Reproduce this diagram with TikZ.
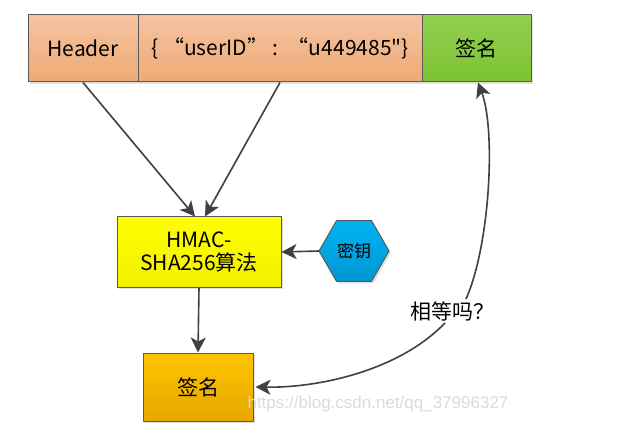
\documentclass[tikz,border=0pt]{standalone}
\usepackage{fontspec}
\setmainfont{Noto Sans CJK SC}[Ligatures=TeXOff]
\newfontfamily\wmfont{Liberation Sans}
\usetikzlibrary{arrows.meta,shapes.geometric,shadows,calc}
\definecolor{edgec}{HTML}{5A5A5A}
\definecolor{linec}{HTML}{404040}
\definecolor{orgtop}{HTML}{F5C3A0}
\definecolor{orgbot}{HTML}{EEAA76}
\definecolor{grntop}{HTML}{92D050}
\definecolor{grnbot}{HTML}{7CC232}
\definecolor{ylwtop}{HTML}{FFFF00}
\definecolor{ylwbot}{HTML}{F2F000}
\definecolor{blutop}{HTML}{00B4F2}
\definecolor{blubot}{HTML}{0096D2}
\definecolor{gldtop}{HTML}{FFC400}
\definecolor{gldbot}{HTML}{E6A800}
\tikzset{
  box/.style={draw=edgec, line width=1pt, inner sep=0pt, anchor=center,
    drop shadow={shadow xshift=2pt, shadow yshift=-2pt, fill=black!20, opacity=0.6},
    font=\fontsize{21}{23}\selectfont, align=center},
  orangebox/.style={box, top color=orgtop, bottom color=orgbot, minimum height=67pt},
  conn/.style={draw=linec, line width=1.6pt, -{Stealth[length=15pt,width=15pt,inset=4pt]}}
}
\begin{document}
\begin{tikzpicture}[x=1pt,y=-1pt]
\useasboundingbox (0,0) rectangle (619,441);
\fill[white] (0,0) rectangle (619,441);
% top row
\node[orangebox, minimum width=110pt] (hdr) at (83,48.5) {Header};
\node[orangebox, minimum width=284pt] (json) at (280,48.5) {\{ “userID” : \ “u449485"\}};
\node[box, top color=grntop, bottom color=grnbot, minimum width=109pt, minimum height=67pt] (topsig) at (476.5,48.5) {签名};
% HMAC
\node[box, top color=ylwtop, bottom color=ylwbot, minimum width=164pt, minimum height=70pt] (hmac) at (199,252) {HMAC-\\SHA256算法};
% key hexagon (pointed left and right)
\path[draw=edgec, line width=1pt, top color=blutop, bottom color=blubot,
  drop shadow={shadow xshift=2pt, shadow yshift=-2pt, fill=black!20, opacity=0.6}]
  (389,251) -- (371.5,220.7) -- (336.5,220.7) -- (319,251) -- (336.5,281.3) -- (371.5,281.3) -- cycle;
\node[font=\fontsize{17}{19}\selectfont, inner sep=0pt] (key) at (354,251) {密钥};
\coordinate (keyw) at (319,251);
% bottom signature
\node[box, top color=gldtop, bottom color=gldbot, minimum width=110pt, minimum height=68pt] (botsig) at (198,387) {签名};
% label
\node[font=\fontsize{21}{23}\selectfont, inner sep=2pt] (eq) at (452,311) {相等吗？};
% watermark
\node[font=\wmfont\fontsize{17}{19}\selectfont, text=black!14] (wm) at (378,404) {https://blog.csdn.net/qq\_37996327};
% connectors
\draw[conn] (hdr.south) -- ([xshift=-4pt]hmac.north);
\draw[conn] (json.south) -- ([xshift=6pt]hmac.north);
\draw[conn] (keyw) -- (hmac.east);
\draw[conn] (hmac.south) -- (botsig.north);
\draw[conn] ([xshift=14pt]eq.north) .. controls (490,245) and (496,130) .. ([xshift=1.5pt]topsig.south);
\draw[conn] ([xshift=-7pt]eq.south) .. controls (400,370) and (320,388) .. ([xshift=2pt]botsig.east);
\end{tikzpicture}
\end{document}
